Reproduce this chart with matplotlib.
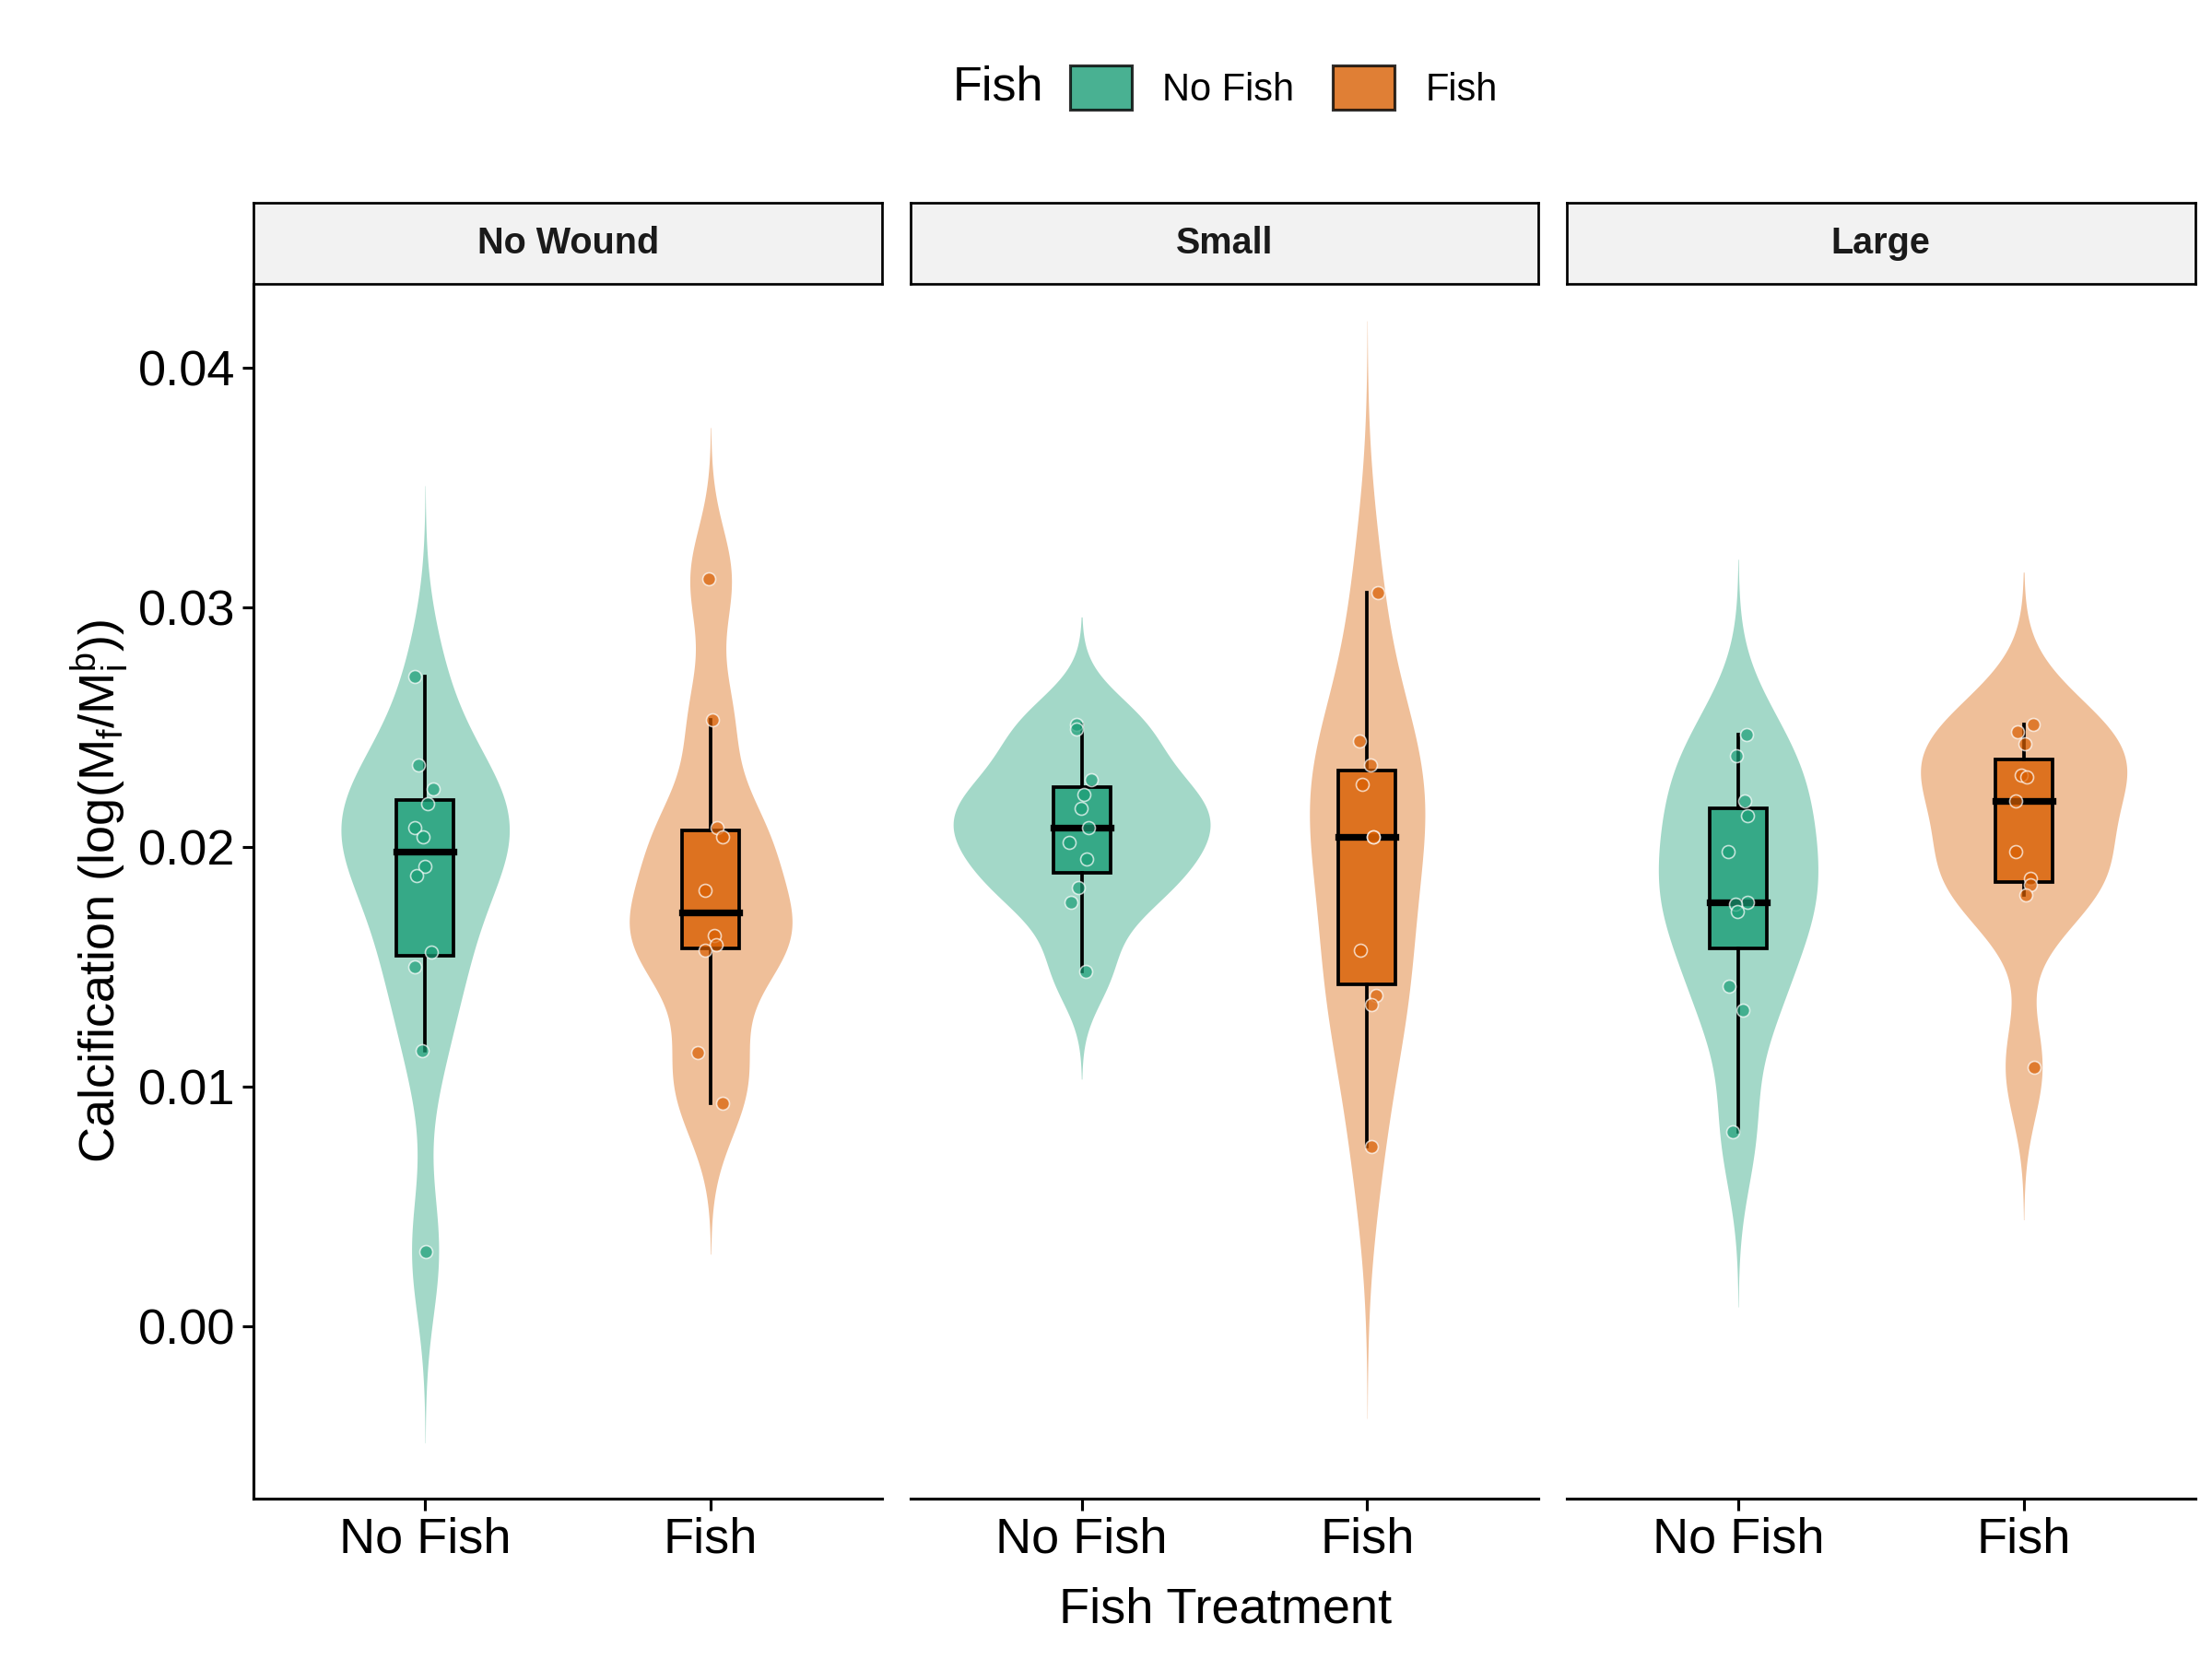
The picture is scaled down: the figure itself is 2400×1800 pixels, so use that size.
import matplotlib
matplotlib.use('Agg')
import matplotlib.pyplot as plt
from matplotlib.patches import Rectangle
from matplotlib.offsetbox import HPacker
import numpy as np

plt.rcParams['font.family'] = ['Liberation Sans', 'DejaVu Sans']
plt.rcParams['mathtext.fontset'] = 'custom'
plt.rcParams['mathtext.rm'] = 'Liberation Sans'

wounds = ['No Wound', 'Small', 'Large']
treatments = ['No Fish', 'Fish']
colors = {'No Fish': '#1B9E77', 'Fish': '#D95F02'}

# calcification values
nw_nofish = [0.0271, 0.0234, 0.0224, 0.0218, 0.0208, 0.0204, 0.0192, 0.0188, 0.0156, 0.0150, 0.0115, 0.0031]
nw_fish = [0.0312, 0.0253, 0.0208, 0.0204, 0.0182, 0.0163, 0.0159, 0.0157, 0.0114, 0.0093]
sm_nofish = [0.0251, 0.0249, 0.0228, 0.0222, 0.0216, 0.0208, 0.0202, 0.0195, 0.0183, 0.0177, 0.0148]
sm_fish = [0.0306, 0.0244, 0.0234, 0.0226, 0.0204, 0.0204, 0.0157, 0.0138, 0.0134, 0.0075]
lg_nofish = [0.0247, 0.0238, 0.0219, 0.0213, 0.0198, 0.0177, 0.0176, 0.0173, 0.0142, 0.0132, 0.0081]
lg_fish = [0.0251, 0.0248, 0.0243, 0.0230, 0.0229, 0.0219, 0.0198, 0.0187, 0.0184, 0.0180, 0.0108]

data = {
    'No Wound': [nw_nofish, nw_fish],
    'Small': [sm_nofish, sm_fish],
    'Large': [lg_nofish, lg_fish],
}


def kde(vals):
    v = np.asarray(vals)
    n = len(v)
    iqr = np.subtract(*np.percentile(v, [75, 25]))
    bw = 0.9 * min(v.std(ddof=1), iqr / 1.34) * n ** -0.2
    y = np.linspace(v.min() - 3 * bw, v.max() + 3 * bw, 400)
    d = np.exp(-0.5 * ((y[:, None] - v[None, :]) / bw) ** 2).sum(1) / (n * bw * np.sqrt(2 * np.pi))
    return y, d


dens = {(w, t): kde(data[w][i]) for w in wounds for i, t in enumerate(treatments)}
dmax = max(d.max() for _, d in dens.values())

fig = plt.figure(figsize=(16, 12), dpi=150)
W, H = 1560, 1170
lefts = [179, 642, 1105]
pw = 443
rng = np.random.default_rng(3)

for k, w in enumerate(wounds):
    ax = fig.add_axes([lefts[k] / W, 1 - 1057 / H, pw / W, (1057 - 200) / H])
    for i, t in enumerate(treatments):
        x0 = i + 1
        c = colors[t]
        vals = np.asarray(data[w][i])
        y, d = dens[(w, t)]
        hw = d / dmax * 0.45
        ax.fill_betweenx(y, x0 - hw, x0 + hw, color=c, alpha=0.4, lw=0, zorder=1)
        q1, med, q3 = np.percentile(vals, [25, 50, 75])
        iqr = q3 - q1
        lo = vals[vals >= q1 - 1.5 * iqr].min()
        hi = vals[vals <= q3 + 1.5 * iqr].max()
        bw = 0.1
        ax.add_patch(Rectangle((x0 - bw, q1), 2 * bw, q3 - q1, facecolor=c, alpha=0.8,
                               edgecolor='none', zorder=2))
        ax.add_patch(Rectangle((x0 - bw, q1), 2 * bw, q3 - q1, facecolor='none',
                               edgecolor='black', lw=1.8, zorder=3))
        ax.plot([x0, x0], [q3, hi], color='black', lw=1.8, zorder=3)
        ax.plot([x0, x0], [lo, q1], color='black', lw=1.8, zorder=3)
        ax.plot([x0 - bw, x0 + bw], [med, med], color='black', lw=3.5, zorder=3)
        jx = x0 + rng.uniform(-0.045, 0.045, len(vals))
        ax.scatter(jx, vals, s=45, color=c, alpha=0.7, edgecolor='white', linewidth=0.8, zorder=4)
    ax.set_xlim(0.4, 2.6)
    ax.set_ylim(-0.0072, 0.0435)
    ax.set_xticks([1, 2])
    ax.set_xticklabels(treatments)
    for s in ['top', 'right']:
        ax.spines[s].set_visible(False)
    ax.spines['bottom'].set_linewidth(1.5)
    ax.spines['left'].set_linewidth(1.5)
    ax.tick_params(axis='both', length=6, width=1.5, labelsize=26, colors='black')
    if k == 0:
        ax.set_yticks([0, 0.01, 0.02, 0.03, 0.04])
        ax.set_yticklabels(['0.00', '0.01', '0.02', '0.03', '0.04'])
        ax.set_ylabel(r'Calcification (log(M$_\mathrm{f}$/M$_\mathrm{i}^\mathrm{b}$))', fontsize=26)
    else:
        ax.spines['left'].set_visible(False)
        ax.set_yticks([])
    sax = fig.add_axes([lefts[k] / W, 1 - 200 / H, pw / W, 57 / H])
    sax.set_facecolor('#F2F2F2')
    sax.set_xticks([]); sax.set_yticks([])
    for s in sax.spines.values():
        s.set_linewidth(1.3)
    sax.text(0.5, 0.5, w, ha='center', va='center', fontsize=19, fontweight='bold',
             color='#1A1A1A', transform=sax.transAxes)

fig.text(864 / W, 1 - 1135 / H, 'Fish Treatment', ha='center', va='center', fontsize=26)

handles = [Rectangle((0, 0), 1, 1, facecolor=colors[t], alpha=0.8, edgecolor='black', lw=1.5)
           for t in treatments]
fig.legend(handles, treatments, loc='center', bbox_to_anchor=(864 / W, 1 - 62 / H), ncol=2,
           frameon=False, fontsize=20, title='Fish', title_fontsize=25,
           handlelength=1.6, handleheight=1.4, columnspacing=1.0, handletextpad=0.8)
leg = fig.legends[0]
leg._legend_box._children = [HPacker(pad=0, sep=14, align='center',
                                     children=[leg._legend_title_box, leg._legend_handle_box])]

fig.savefig('out.png', dpi=150)
